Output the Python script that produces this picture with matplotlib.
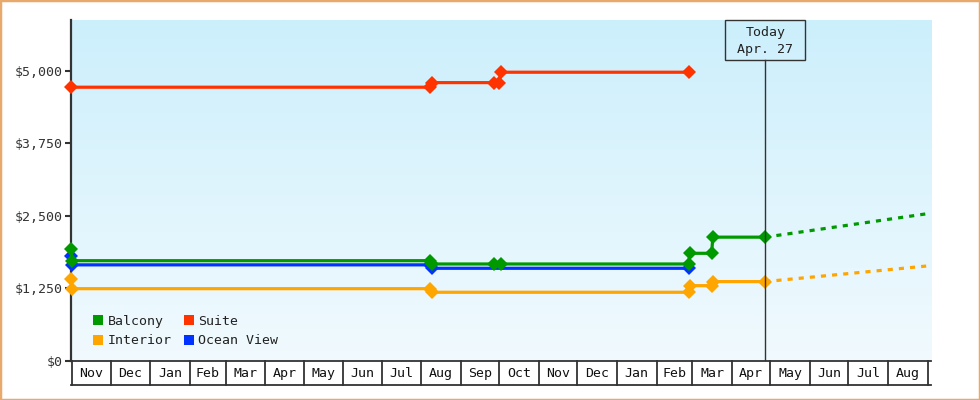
import matplotlib
matplotlib.use("Agg")

import matplotlib.pyplot as plt
import matplotlib.dates as mdates
from matplotlib.colors import LinearSegmentedColormap
from matplotlib.patches import Rectangle
from matplotlib.lines import Line2D
import numpy as np
import pandas as pd

plt.rcParams.update({
    "font.family": "DejaVu Sans Mono",
    "font.size": 9.5,
    "text.color": "#222222",
})

# ===================== data =====================
balcony_dates = ["2016-10-31", "2016-11-01", "2017-08-08", "2017-08-09", "2017-09-27",
                 "2017-10-02", "2018-02-26", "2018-02-27", "2018-03-16", "2018-03-17",
                 "2018-04-27"]
balcony_prices = [1923, 1727, 1727, 1670, 1670, 1670, 1670, 1854, 1854, 2132, 2132]

suite_dates = ["2016-10-31", "2017-08-08", "2017-08-09", "2017-09-27", "2017-10-01",
               "2017-10-02", "2018-02-26"]
suite_prices = [4713, 4713, 4792, 4792, 4792, 4971, 4971]

interior_dates = ["2016-10-31", "2016-11-01", "2017-08-08", "2017-08-09", "2018-02-26",
                  "2018-02-27", "2018-03-16", "2018-03-17", "2018-04-27"]
interior_prices = [1412, 1245, 1245, 1183, 1183, 1297, 1297, 1367, 1367]

ocean_dates = ["2016-10-31", "2016-11-01", "2017-08-08", "2017-08-09", "2018-02-26"]
ocean_prices = [1808, 1655, 1655, 1596, 1596]

# projections after today
proj_dates = ["2018-04-27", "2018-09-03"]
balcony_proj = [2132, 2543]
interior_proj = [1367, 1641]

today = "2018-04-27"
today_label = "Today\nApr. 27"

month_edges = pd.date_range("2016-11-01", "2018-09-01", freq="MS")
y_ticks = [0, 1250, 2500, 3750, 5000]
y_tick_labels = ["$0", "$1,250", "$2,500", "$3,750", "$5,000"]

series = [
    ("Balcony", balcony_dates, balcony_prices, "#009900"),
    ("Interior", interior_dates, interior_prices, "#FFA500"),
    ("Suite", suite_dates, suite_prices, "#FF3300"),
    ("Ocean View", ocean_dates, ocean_prices, "#0033FF"),
]
draw_order = ["Interior", "Ocean View", "Balcony", "Suite"]

AXIS = "#333333"

# ===================== figure =====================
fig = plt.figure(figsize=(9.8, 4.0), dpi=100)
ax = fig.add_axes([70.7 / 980, 39 / 400, (931 - 70.7) / 980, 341 / 400])

x_lo = mdates.date2num(pd.Timestamp("2016-11-01")) - 1.25
x_hi = mdates.date2num(pd.Timestamp("2018-09-01")) + 2.6

# background gradient
bg = LinearSegmentedColormap.from_list("bg", ["#F1FAFE", "#CCEFFC"])
ax.imshow(np.linspace(0, 1, 256).reshape(-1, 1), extent=[0, 1, 0, 1],
          transform=ax.transAxes, cmap=bg, origin="lower", aspect="auto",
          zorder=0, interpolation="bilinear")

lookup = {s[0]: s for s in series}
for name in draw_order:
    _, d, p, c = lookup[name]
    ax.plot(pd.to_datetime(d), p, color=c, lw=2.3, marker="D", markersize=7,
            markeredgewidth=0, zorder=3, solid_joinstyle="round", clip_on=False)

ax.plot(pd.to_datetime(proj_dates), balcony_proj, color="#009900", lw=2.3,
        ls=(0, (1.6, 1.9)), zorder=3)
ax.plot(pd.to_datetime(proj_dates), interior_proj, color="#FFA500", lw=2.3,
        ls=(0, (1.6, 1.9)), zorder=3)

ax.set_xlim(x_lo, x_hi)
ax.set_ylim(0, 5870)

# today marker
t_num = mdates.date2num(pd.Timestamp(today))
box_bottom = (361 - 60.3) / 341
ax.plot([t_num, t_num], [0, box_bottom], color=AXIS, lw=1.0, zorder=4,
        transform=ax.get_xaxis_transform())
half_w = 40.2 / 1.2787
ax.add_patch(Rectangle((t_num - half_w, box_bottom), 2 * half_w, 1 - box_bottom,
                       transform=ax.get_xaxis_transform(), fill=False,
                       edgecolor=AXIS, lw=1.0, zorder=4, clip_on=False))
ax.text(t_num, (361 - 41.3) / 341, today_label, transform=ax.get_xaxis_transform(),
        ha="center", va="center", linespacing=1.4, color="#222222", zorder=5)

# axes styling
for side in ["top", "right", "bottom"]:
    ax.spines[side].set_visible(False)
ax.spines["left"].set_color(AXIS)
ax.spines["left"].set_linewidth(1.6)
ax.set_yticks(y_ticks)
ax.set_yticklabels(y_tick_labels)
ax.tick_params(axis="y", length=4, width=1.5, color=AXIS, pad=2, labelcolor="#333333")
ax.set_xticks([])

# month boxes under the axis
trans = ax.get_xaxis_transform()
box_h = -24.3 / 341
ax.plot([0, 1], [0, 0], color=AXIS, lw=1.3, transform=ax.transAxes, clip_on=False, zorder=4)
ax.plot([0, 1], [box_h, box_h], color=AXIS, lw=1.3, transform=ax.transAxes, clip_on=False)
edges = mdates.date2num(month_edges)
for e in edges:
    ax.plot([e, e], [0, box_h], color=AXIS, lw=1.3, transform=trans, clip_on=False)
for a, b, m in zip(edges[:-1], edges[1:], month_edges[:-1]):
    ax.text((a + b) / 2, box_h / 2 - 0.002, m.strftime("%b"), transform=trans,
            ha="center", va="center", color="#111111")

# legend
handles = [Line2D([0], [0], ls="none", marker="s", markersize=7.5, color=c,
                  markeredgewidth=0, label=n) for n, _, _, c in series]
ax.legend(handles=handles, ncol=2, loc="lower left", bbox_to_anchor=(0.026, 0.04),
          frameon=False, borderpad=0, borderaxespad=0, handlelength=0.8,
          handletextpad=0.3, columnspacing=0.9, labelspacing=0.5)

# orange frame around the whole picture
fig.patches.append(Rectangle((0, 0), 1, 1, transform=fig.transFigure, fill=False,
                             edgecolor="#E8A96C", lw=2.5))

fig.savefig("out.png", dpi=100)
